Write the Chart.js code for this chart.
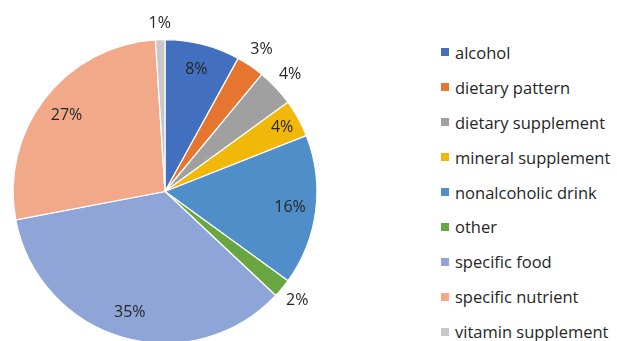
<!DOCTYPE html>
<html>
<head>
<meta charset="utf-8">
<script src="https://cdn.jsdelivr.net/npm/chart.js@4.4.1/dist/chart.umd.min.js"></script>
<style>
  html, body { margin: 0; padding: 0; background: #fff; }
  body { width: 617px; height: 341px; position: relative; overflow: hidden; font-family: "Open Sans", sans-serif; }
  #wrap { position: absolute; left: 0; top: 0; width: 330px; height: 360px; }
  #legend { position: absolute; left: 441px; top: 35px; margin: 0; padding: 0; list-style: none; }
  #legend li { height: 34.9px; display: flex; align-items: center; font-size: 16.5px; color: #262626; white-space: nowrap; }
  #legend span.box { display: inline-block; width: 8px; height: 8px; margin-right: 6px; }
</style>
</head>
<body>
<div id="wrap"><canvas id="pie"></canvas></div>
<ul id="legend"></ul>
<script>
// categories and shares (percent)
const categorias = ['alcohol', 'dietary pattern', 'dietary supplement', 'mineral supplement',
  'nonalcoholic drink', 'other', 'specific food', 'specific nutrient', 'vitamin supplement'];
const porcentajes = [8, 3, 4, 4, 16, 2, 35, 27, 1];
const colores = ['#4270bf', '#e5752f', '#a0a0a0', '#f1b80a', '#4f8ec9', '#6aa63f', '#8fa5d8', '#f1a98a', '#c8c8c8'];

// where each value label sits, as a fraction of the radius
const radioEtiqueta = [0.83, 1.13, 1.13, 0.88, 0.83, 1.13, 0.83, 0.82, 1.11];

// leyenda HTML
const legend = document.getElementById('legend');
categorias.forEach((c, i) => {
  const li = document.createElement('li');
  li.innerHTML = `<span class="box" style="background:${colores[i]}"></span>${c}`;
  legend.appendChild(li);
});

const etiquetas = {
  id: 'etiquetas',
  afterDatasetsDraw(chart) {
    const ctx = chart.ctx;
    const meta = chart.getDatasetMeta(0);
    ctx.save();
    ctx.font = '16px "Open Sans", sans-serif';
    ctx.fillStyle = '#262626';
    ctx.textAlign = 'center';
    ctx.textBaseline = 'middle';
    meta.data.forEach((arc, i) => {
      const p = arc.getProps(['x', 'y', 'startAngle', 'endAngle', 'outerRadius'], true);
      const a = (p.startAngle + p.endAngle) / 2;
      const r = p.outerRadius * radioEtiqueta[i];
      ctx.fillText(porcentajes[i] + '%', p.x + Math.cos(a) * r, p.y + Math.sin(a) * r);
    });
    ctx.restore();
  }
};

new Chart(document.getElementById('pie').getContext('2d'), {
  type: 'pie',
  data: {
    labels: categorias,
    datasets: [{
      data: porcentajes,
      backgroundColor: colores,
      borderColor: '#fff',
      borderWidth: 1.2
    }]
  },
  options: {
    responsive: true,
    maintainAspectRatio: false,
    animation: false,
    layout: { padding: { left: 12, right: 12, top: 39, bottom: 16 } },
    plugins: { legend: { display: false }, tooltip: { enabled: false } }
  },
  plugins: [etiquetas]
});
</script>
</body>
</html>
